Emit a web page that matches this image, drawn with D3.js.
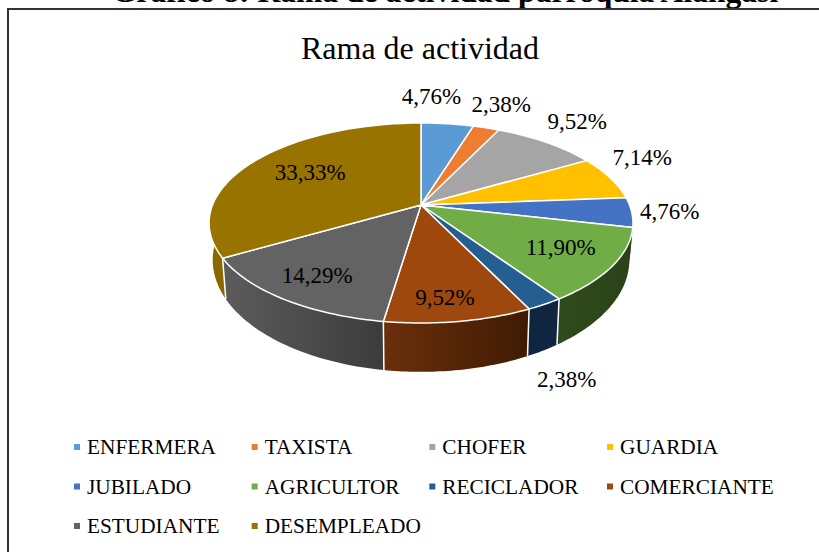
<!DOCTYPE html>
<html>
<head>
<meta charset="utf-8">
<script src="https://cdn.jsdelivr.net/npm/d3@7"></script>
<style>
    body { margin: 0; background: #fff; }
    text { font-family: "Liberation Serif", serif; fill: #000; }
</style>
</head>
<body>
<div id="chart"></div>
<script>
// DATA
// ================================================================================== //
const categories = ["ENFERMERA", "TAXISTA", "CHOFER", "GUARDIA", "JUBILADO", "AGRICULTOR", "RECICLADOR", "COMERCIANTE", "ESTUDIANTE", "DESEMPLEADO"]
const values = [4.76, 2.38, 9.52, 7.14, 4.76, 11.90, 2.38, 9.52, 14.29, 33.33]
const colors = ["#5b9bd5", "#ed7d31", "#a5a5a5", "#ffc000", "#4472c4", "#70ad47", "#255e91", "#9e480e", "#636363", "#997300"]
// wall shading, left and right end of each slice
const wallLeft = ["#37618a", "#8f4a1c", "#636363", "#997300", "#2f4f8a", "#2f4a1c", "#0f2540", "#6b2f0c", "#5c5c5c", "#8a6800"]
const wallRight = ["#37618a", "#8f4a1c", "#636363", "#997300", "#2f4f8a", "#2b4218", "#0f2540", "#3f1b02", "#3c3c3c", "#8a6800"]
const chartTitle = "Rama de actividad"
const pageTitle = "Gráfico 8: Rama de actividad parroquia Alangasí"

// label offset from the slice's point on the rim
const labelOffsets = [[-16, -27], [15, -23], [31, -20], [32, -20], [38, 0], [-52, -18], [22, 76], [-14, -23], [34, -23], [55, 12]]
// ================================================================================== //
// DATA END

const width = 819
const height = 552
const cx = 421
const cy = 205

const fmt = v => v.toFixed(2).replace(".", ",") + "%"

// perspective view of the disc: top face and the (more open) bottom face
const topPoint = (a, r = 1) => {
    const u = r * Math.sin(a), v = -r * Math.cos(a)
    const w = 1 - 0.18 * v
    return [cx + 208.5 * u / w, cy + 96.76 * v / w]
}
const bottomPoint = (a) => {
    const u = Math.sin(a), v = -Math.cos(a)
    const w = 1.018 - 0.186 * v
    return [cx + 208.5 * u / w, cy + (35.3 + 103.5 * v) / w]
}

const arcs = d3.pie().sort(null).value(d => d)(values)
    .map((d, i) => ({ ...d, i }))

const color = d3.scaleOrdinal().domain(categories).range(colors)
const line = d3.line()
const angles = d => d3.range(0, 41).map(k => d.startAngle + (d.endAngle - d.startAngle) * k / 40)

const svg = d3.select("#chart")
    .append("svg")
    .attr("width", width)
    .attr("height", height)
    .style("display", "block")

// heading is cut by the top of the page
svg.append("text")
    .attr("x", 445)
    .attr("y", 2)
    .attr("text-anchor", "middle")
    .attr("font-weight", "bold")
    .attr("font-size", 31.6)
    .text(pageTitle)

svg.append("path")
    .attr("d", line([[8, height], [8, 9], [width, 9]]))
    .attr("fill", "none")
    .attr("stroke", "#333")
    .attr("stroke-width", 2)

svg.append("text")
    .attr("x", 420)
    .attr("y", 59)
    .attr("text-anchor", "middle")
    .attr("font-size", 32)
    .text(chartTitle)

// walls, only slices that reach the front
const defs = svg.append("defs")
const maxV = d => d3.max(angles(d), a => -Math.cos(a))
const front = arcs.filter(d => maxV(d) > 0).sort((a, b) => d3.ascending(maxV(a), maxV(b)))

front.forEach(d => {
    const xs = angles(d).map(a => topPoint(a)[0])
    const g = defs.append("linearGradient")
        .attr("id", `wall${d.i}`)
        .attr("gradientUnits", "userSpaceOnUse")
        .attr("x1", d3.min(xs)).attr("x2", d3.max(xs))
        .attr("y1", 0).attr("y2", 0)
    g.append("stop").attr("offset", 0).attr("stop-color", wallLeft[d.i])
    g.append("stop").attr("offset", 1).attr("stop-color", wallRight[d.i])
})

svg.append("g")
    .selectAll("path")
    .data(front)
    .join("path")
    .attr("d", d => {
        const a = angles(d)
        return line([...a.map(t => topPoint(t)), ...a.slice().reverse().map(bottomPoint)]) + "Z"
    })
    .attr("fill", d => `url(#wall${d.i})`)

// white edges between the walls, on the front half only
svg.append("g")
    .selectAll("path")
    .data(arcs.filter(d => -Math.cos(d.startAngle) > 0.3))
    .join("path")
    .attr("d", d => line([topPoint(d.startAngle), bottomPoint(d.startAngle)]))
    .attr("stroke", "#fff")
    .attr("stroke-width", 1.5)

// top face
svg.append("g")
    .selectAll("path")
    .data(arcs)
    .join("path")
    .attr("d", d => line([[cx, cy], ...angles(d).map(t => topPoint(t))]) + "Z")
    .attr("fill", d => color(categories[d.i]))
    .attr("stroke", "#fff")
    .attr("stroke-width", 1.5)
    .attr("stroke-linejoin", "round")

// data labels
svg.append("g")
    .selectAll("text")
    .data(arcs)
    .join("text")
    .attr("x", d => topPoint((d.startAngle + d.endAngle) / 2)[0] + labelOffsets[d.i][0])
    .attr("y", d => topPoint((d.startAngle + d.endAngle) / 2)[1] + labelOffsets[d.i][1] + 7)
    .attr("text-anchor", "middle")
    .attr("font-size", 23)
    .text(d => fmt(d.data))

// legend
const col = d3.scalePoint().domain([0, 1, 2, 3]).range([77, 610])
const row = d3.scalePoint().domain([0, 1, 2]).range([447, 526])

const legend = svg.append("g")
    .selectAll("g")
    .data(categories)
    .join("g")
    .attr("transform", (d, i) => `translate(${col(i % 4)},${row(Math.floor(i / 4))})`)

legend.append("rect")
    .attr("x", -3)
    .attr("y", -3)
    .attr("width", 6)
    .attr("height", 6)
    .attr("fill", d => color(d))

legend.append("text")
    .attr("x", 10)
    .attr("y", 7)
    .attr("font-size", 21.3)
    .text(d => d)
</script>
</body>
</html>
